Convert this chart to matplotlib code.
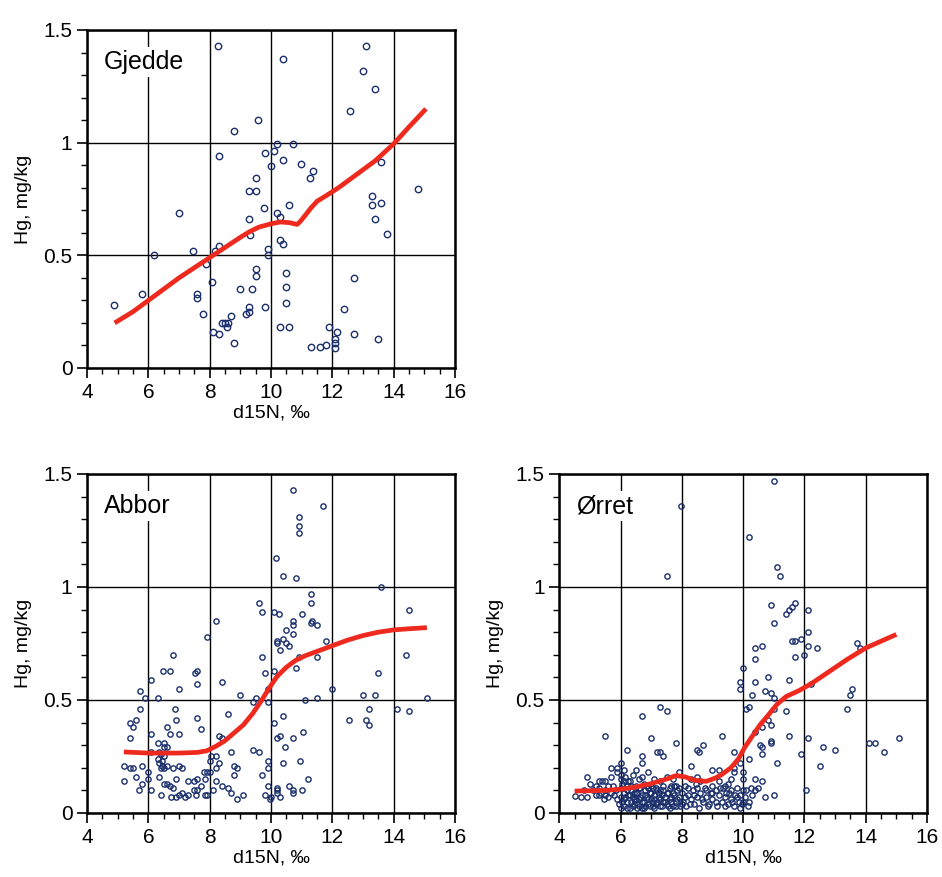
import matplotlib
matplotlib.use('Agg')
import matplotlib.pyplot as plt
from matplotlib.ticker import MultipleLocator

plt.rcParams['font.family'] = ['Liberation Sans', 'DejaVu Sans']

# Gjedde (pike)
gjedde_x = [4.88, 5.79, 6.18, 7.0, 7.46, 7.59, 7.59, 7.78, 7.88, 8.08, 8.17, 8.3, 8.1, 8.3, 8.4, 8.5,
            8.6, 8.55, 8.7, 8.79, 8.99, 9.18, 9.28, 9.28, 9.38, 9.5, 9.5, 9.8, 9.28, 9.3, 9.77, 9.9,
            9.9, 10.2, 10.3, 10.3, 10.39, 10.59, 10.49, 10.49, 10.49, 10.3, 10.59, 8.27, 9.57, 8.79,
            10.2, 10.7, 8.3, 9.8, 10.1, 10.39, 10.0, 10.98, 11.27, 11.37, 9.5, 9.28, 9.5, 10.39, 13.1,
            13.0, 13.39, 12.58, 13.59, 14.8, 13.29, 13.29, 13.59, 13.39, 13.78, 12.7, 12.38, 12.7,
            13.49, 11.9, 12.15, 12.1, 12.1, 12.1, 11.3, 11.6, 11.8]
gjedde_y = [0.28, 0.33, 0.50, 0.69, 0.52, 0.33, 0.31, 0.24, 0.46, 0.38, 0.52, 0.54, 0.16, 0.15, 0.20, 0.20,
            0.20, 0.18, 0.23, 0.11, 0.35, 0.24, 0.25, 0.27, 0.35, 0.44, 0.41, 0.27, 0.66, 0.59, 0.71, 0.53,
            0.50, 0.69, 0.67, 0.57, 0.55, 0.725, 0.42, 0.36, 0.29, 0.18, 0.18, 1.43, 1.10, 1.05,
            0.995, 0.995, 0.94, 0.955, 0.965, 0.925, 0.895, 0.905, 0.845, 0.875, 0.845, 0.787, 0.787, 1.37, 1.43,
            1.32, 1.24, 1.14, 0.915, 0.795, 0.765, 0.725, 0.73, 0.66, 0.595, 0.40, 0.26, 0.15,
            0.13, 0.18, 0.16, 0.13, 0.11, 0.09, 0.093, 0.093, 0.10]
gjedde_fit_x = [4.9, 5.5, 6.0, 6.5, 7.0, 7.5, 8.0, 8.5, 9.0, 9.3, 9.6, 10.0, 10.3, 10.6, 10.85, 10.95,
                11.1, 11.3, 11.5, 11.8, 12.2, 12.8, 13.4, 14.0, 14.5, 15.05]
gjedde_fit_y = [0.20, 0.25, 0.30, 0.35, 0.40, 0.445, 0.49, 0.535, 0.58, 0.605, 0.625, 0.64, 0.648, 0.645,
                0.637, 0.65, 0.675, 0.71, 0.74, 0.765, 0.80, 0.86, 0.92, 0.995, 1.07, 1.15]

# Abbor (perch)
abbor_x = [10.7, 11.7, 10.9, 10.9, 10.9, 10.16, 10.4, 10.8, 13.59, 11.3, 11.3, 9.6, 9.7, 10.1, 10.26, 8.2,
           14.5, 11.0, 10.7, 10.7, 10.5, 10.7, 11.35, 11.3, 11.5, 7.9, 10.2, 10.2, 10.4, 10.5, 10.6, 10.3,
           11.8, 6.8, 9.7, 10.9, 11.5, 14.4, 10.8, 6.48, 6.7, 7.52, 7.59, 10.1, 9.8, 13.5, 7.6, 6.1, 7.0,
           5.73, 5.9, 6.3, 8.4, 9.0, 12.0, 13.0, 13.4, 15.1, 11.1, 11.5, 9.4, 9.5, 9.9, 9.9, 13.2, 14.1,
           14.5, 12.55, 13.1, 13.2, 10.4, 10.1, 11.05, 10.3, 10.7, 10.45, 10.4, 10.95, 11.2, 10.6, 10.2,
           10.2, 10.2, 10.3, 10.7, 10.7, 11.0, 10.0,
           5.73, 5.4, 5.6, 5.5, 5.4, 6.87, 6.9, 6.6, 6.7, 7.0, 7.6, 7.7, 6.1, 6.3, 6.5, 6.6, 6.5, 6.1,
           6.35, 6.4, 6.5, 6.3, 6.45, 6.35, 6.45, 8.6, 8.3, 8.4, 8.7, 8.05, 8.2, 8.0, 8.3, 5.2, 5.4, 5.5,
           5.8, 5.2, 5.6, 5.7, 5.8, 6.0, 6.0, 6.1, 6.4, 6.35, 6.4, 6.5, 6.6, 6.8, 7.0, 7.1, 6.5, 6.6, 6.7,
           6.9, 6.8, 6.75, 6.9, 7.0, 7.1, 7.3, 7.2, 7.3, 7.5, 7.6, 7.5, 7.6, 7.55, 7.8, 7.9, 8.0, 7.7,
           7.85, 7.85, 7.9, 8.2, 8.2, 8.1, 8.4, 8.6, 8.7, 8.8, 8.9, 8.8, 8.9, 9.1, 9.4, 9.6, 9.7, 9.9,
           9.9, 9.8, 9.9, 9.95, 10.2]
abbor_y = [1.43, 1.36, 1.31, 1.27, 1.24, 1.13, 1.05, 1.04, 1.0, 0.97, 0.93, 0.93, 0.89, 0.89, 0.88, 0.85,
           0.90, 0.88, 0.85, 0.83, 0.81, 0.79, 0.85, 0.84, 0.83, 0.78, 0.76, 0.75, 0.77, 0.75, 0.74, 0.72,
           0.76, 0.70, 0.69, 0.69, 0.69, 0.70, 0.64, 0.63, 0.63, 0.62, 0.63, 0.63, 0.62, 0.62, 0.57, 0.59, 0.55,
           0.54, 0.51, 0.51, 0.58, 0.52, 0.55, 0.52, 0.52, 0.51, 0.50, 0.51, 0.49, 0.51, 0.55, 0.49, 0.46, 0.46,
           0.45, 0.41, 0.41, 0.39, 0.43, 0.40, 0.36, 0.34, 0.33, 0.29, 0.22, 0.23, 0.15, 0.12, 0.11,
           0.10, 0.09, 0.07, 0.10, 0.09, 0.10, 0.07,
           0.46, 0.40, 0.41, 0.38, 0.33, 0.46, 0.41, 0.38, 0.35, 0.35, 0.42, 0.37, 0.35, 0.31, 0.31, 0.29, 0.29, 0.27,
           0.27, 0.26, 0.25, 0.24, 0.23, 0.22, 0.21, 0.44, 0.34, 0.33, 0.27, 0.25, 0.25, 0.23, 0.22, 0.21, 0.20, 0.20,
           0.21, 0.14, 0.16, 0.10, 0.13, 0.18, 0.15, 0.10, 0.08, 0.16, 0.20, 0.20, 0.21, 0.20, 0.21, 0.20, 0.13, 0.13, 0.12,
           0.15, 0.11, 0.07, 0.07, 0.08, 0.09, 0.08, 0.07, 0.14, 0.14, 0.15, 0.10, 0.10, 0.08, 0.18, 0.18, 0.18, 0.12,
           0.15, 0.08, 0.08, 0.20, 0.14, 0.10, 0.12, 0.11, 0.09, 0.21, 0.20, 0.17, 0.06, 0.08, 0.28, 0.27, 0.17, 0.23,
           0.20, 0.08, 0.12, 0.06, 0.33]
abbor_fit_x = [5.2, 6.0, 7.0, 7.6, 7.9, 8.2, 8.5, 8.8, 9.1, 9.4, 9.7, 9.95, 10.2, 10.5, 10.8, 11.1, 11.5,
               12.0, 12.5, 13.0, 13.5, 14.0, 14.5, 15.08]
abbor_fit_y = [0.27, 0.265, 0.265, 0.268, 0.275, 0.295, 0.32, 0.355, 0.39, 0.44, 0.50, 0.555, 0.605, 0.645,
               0.675, 0.695, 0.715, 0.74, 0.765, 0.785, 0.80, 0.81, 0.815, 0.82]

# Ørret (trout)
orret_x = [11.0, 10.18, 11.1, 11.2, 7.97, 7.5, 10.9, 11.7, 11.6, 11.5, 11.4, 12.1, 11.0, 12.1, 11.9, 11.7,
           11.6, 12.1, 12.4, 12.0, 11.7, 10.6, 10.4, 10.4, 13.7, 13.8, 10.0, 9.9, 9.9, 10.4, 10.8, 11.5,
           10.3, 10.7, 10.9, 11.0, 13.55, 13.5, 12.2, 10.1, 10.2, 11.0, 11.4, 13.4, 10.8, 10.9, 10.6, 10.4,
           9.3, 11.5, 12.1, 10.9, 10.9, 10.55, 10.6, 14.1, 14.3, 15.1, 14.6, 12.6, 13.0, 11.9, 9.7, 10.6,
           10.2, 11.1, 12.5, 9.9, 9.7, 9.7, 10.0, 9.6, 10.0, 10.4, 10.6, 9.4, 12.05, 11.0, 10.7, 10.5, 10.4,
           7.3, 7.5, 6.7, 5.5, 7.0, 7.8, 6.2, 7.2, 7.3, 7.4, 8.5, 8.55, 8.7, 6.7, 6.7, 8.3, 5.7, 5.9, 6.0,
           6.1, 4.9, 5.3, 5.4, 5.5, 5.7, 4.5, 4.7, 4.9, 5.3, 5.45, 5.6, 9.0, 9.2, 7.9, 8.5,
           5.9, 6.0, 6.0, 6.05, 6.0, 6.1, 6.0, 6.05, 6.1, 6.15, 6.2, 6.25, 6.2, 5.85, 5.8, 5.75, 5.7, 5.95,
           6.3, 6.35, 6.4, 6.45, 6.5, 6.55, 6.6, 6.6, 6.65, 6.7, 6.75, 6.8, 6.85, 6.9, 6.95, 7.0, 6.4, 6.5,
           6.7, 6.9, 6.35, 6.55, 6.8, 7.0,
           7.05, 7.1, 7.15, 7.2, 7.25, 7.3, 7.35, 7.4, 7.45, 7.5, 7.55, 7.6, 7.65, 7.7, 7.75, 7.8, 7.85, 7.9,
           7.95, 7.3, 7.5, 7.1, 7.7,
           8.0, 8.05, 8.1, 8.15, 8.2, 8.3, 8.35, 8.4, 8.45, 8.5, 8.55, 8.6, 8.7, 8.75, 8.8, 8.9, 8.95, 8.3, 8.6,
           9.0, 9.1, 9.15, 9.2, 9.3, 9.35, 9.4, 9.5, 9.55, 9.6, 9.7, 9.75, 9.8, 9.85, 9.9, 9.95, 10.05, 10.1,
           10.2, 10.3, 9.2, 9.5, 9.0,
           6.1, 6.3, 6.5, 6.7, 6.9, 7.1, 7.3, 7.6, 7.8, 6.2, 6.45, 6.75, 7.05, 7.4, 7.65, 6.25, 6.6,
           5.1, 5.2, 5.3, 5.35, 5.5, 5.6, 5.2, 5.5, 5.0, 4.8,
           5.9, 6.0, 6.1, 6.15, 6.2, 6.3, 6.35, 6.4, 6.45, 6.5, 6.55, 6.6, 6.65, 6.7, 6.75, 6.8, 6.85, 6.9,
           6.95, 7.0, 7.05, 7.1, 7.15, 7.2, 7.25, 7.3, 7.35, 7.4, 7.45, 7.5, 7.55, 7.6, 7.65, 7.7, 7.75, 7.8,
           7.85, 7.9, 8.0, 8.1, 8.2, 8.25, 8.4, 8.5, 8.65, 8.8, 8.85, 9.0, 9.1, 9.25, 9.4, 9.45, 9.6, 9.65,
           9.8, 9.9, 10.0, 10.0, 10.15, 10.25]
orret_y = [1.47, 1.22, 1.09, 1.05, 1.36, 1.05, 0.92, 0.93, 0.91, 0.90, 0.88, 0.90, 0.84, 0.80, 0.77, 0.76,
           0.76, 0.74, 0.73, 0.70, 0.69, 0.74, 0.73, 0.68, 0.75, 0.73, 0.64, 0.58, 0.55, 0.58, 0.60, 0.59,
           0.52, 0.54, 0.53, 0.51, 0.55, 0.52, 0.57, 0.46, 0.47, 0.46, 0.45, 0.46, 0.41, 0.39, 0.38, 0.36,
           0.34, 0.34, 0.33, 0.32, 0.31, 0.30, 0.29, 0.31, 0.31, 0.33, 0.27, 0.29, 0.28, 0.26, 0.27, 0.26,
           0.24, 0.22, 0.21, 0.22, 0.20, 0.18, 0.18, 0.15, 0.15, 0.15, 0.14, 0.12, 0.10, 0.08, 0.07, 0.11, 0.10,
           0.47, 0.45, 0.43, 0.34, 0.33, 0.31, 0.28, 0.27, 0.27, 0.25, 0.28, 0.27, 0.30, 0.25, 0.22, 0.21, 0.20, 0.20, 0.22,
           0.19, 0.16, 0.14, 0.14, 0.14, 0.16, 0.075, 0.07, 0.07, 0.08, 0.06, 0.07, 0.19, 0.19, 0.18, 0.16,
           0.18, 0.17, 0.15, 0.13, 0.11, 0.09, 0.07, 0.05, 0.03, 0.16, 0.12, 0.08, 0.05, 0.10, 0.08, 0.12, 0.09, 0.04,
           0.14, 0.10, 0.07, 0.04, 0.12, 0.09, 0.06, 0.03, 0.11, 0.08, 0.05, 0.10, 0.07, 0.04, 0.09, 0.06, 0.17, 0.19,
           0.16, 0.18, 0.05, 0.02, 0.03, 0.12,
           0.03, 0.08, 0.11, 0.05, 0.09, 0.06, 0.03, 0.10, 0.07, 0.04, 0.09, 0.06, 0.12, 0.03, 0.08, 0.05, 0.10, 0.07,
           0.03, 0.14, 0.16, 0.15, 0.15,
           0.09, 0.05, 0.12, 0.03, 0.08, 0.06, 0.10, 0.04, 0.13, 0.07, 0.02, 0.09, 0.05, 0.11, 0.07, 0.04, 0.09, 0.15, 0.14,
           0.06, 0.10, 0.03, 0.08, 0.05, 0.11, 0.07, 0.04, 0.09, 0.06, 0.03, 0.08, 0.11, 0.05, 0.08, 0.04, 0.07, 0.10,
           0.05, 0.08, 0.14, 0.13, 0.12,
           0.06, 0.02, 0.06, 0.02, 0.11, 0.02, 0.10, 0.02, 0.12, 0.10, 0.09, 0.13, 0.05, 0.05, 0.07, 0.14, 0.15,
           0.10, 0.12, 0.11, 0.09, 0.10, 0.12, 0.08, 0.08, 0.13, 0.10,
           0.06, 0.02, 0.14, 0.07, 0.02, 0.08, 0.12, 0.03, 0.06, 0.09, 0.04, 0.11, 0.07, 0.05, 0.02, 0.08, 0.12, 0.06,
           0.03, 0.09, 0.11, 0.06, 0.04, 0.10, 0.07, 0.03, 0.08, 0.12, 0.05, 0.09, 0.03, 0.11, 0.05, 0.09, 0.12, 0.03,
           0.06, 0.11, 0.04, 0.07, 0.11, 0.04, 0.08, 0.11, 0.06, 0.10, 0.03, 0.09, 0.05, 0.11, 0.03, 0.09, 0.10, 0.05,
           0.07, 0.02, 0.10, 0.05, 0.03, 0.11]
orret_fit_x = [4.5, 5.5, 6.0, 6.5, 7.0, 7.5, 7.8, 8.1, 8.4, 8.8, 9.1, 9.3, 9.6, 9.85, 10.05, 10.3, 10.55,
               10.8, 11.1, 11.4, 11.8, 12.2, 12.8, 13.4, 14.0, 14.5, 15.0]
orret_fit_y = [0.097, 0.10, 0.105, 0.115, 0.13, 0.15, 0.165, 0.16, 0.145, 0.14, 0.155, 0.17, 0.20, 0.24,
               0.29, 0.34, 0.39, 0.43, 0.48, 0.515, 0.54, 0.57, 0.625, 0.68, 0.73, 0.76, 0.79]

navy = '#1a2f6b'
red = '#ee2a1f'


def panel(ax, xs, ys, fx, fy, name, msize):
    ax.set_xlim(4, 16)
    ax.set_ylim(0, 1.5)
    ax.grid(True, color='black', linewidth=1.0)
    ax.set_axisbelow(True)
    ax.plot(xs, ys, 'o', markerfacecolor='none', markeredgecolor=navy,
            markersize=msize, markeredgewidth=1.0, clip_on=False, zorder=3)
    ax.plot(fx, fy, color=red, linewidth=3.4, solid_capstyle='butt', solid_joinstyle='round', zorder=4)
    ax.xaxis.set_major_locator(MultipleLocator(2))
    ax.xaxis.set_minor_locator(MultipleLocator(0.5))
    ax.yaxis.set_major_locator(MultipleLocator(0.5))
    ax.yaxis.set_minor_locator(MultipleLocator(0.1))
    ax.set_yticks([0, 0.5, 1, 1.5])
    ax.set_yticklabels(['0', '0.5', '1', '1.5'])
    ax.tick_params(which='major', direction='out', length=7, width=1.2, labelsize=15)
    ax.tick_params(which='minor', direction='out', length=4, width=1.0)
    for s in ax.spines.values():
        s.set_linewidth(1.8)
    ax.set_xlabel('d15N, ‰', fontsize=14, labelpad=2)
    ax.set_ylabel('Hg, mg/kg', fontsize=14, labelpad=8)
    ax.text(0.045, 0.905, name, transform=ax.transAxes, fontsize=18, va='center', ha='left',
            bbox=dict(facecolor='white', edgecolor='none', pad=2), zorder=5)


fig = plt.figure(figsize=(9.42, 8.77), dpi=100)
ax1 = fig.add_axes([0.0924, 0.5804, 0.3907, 0.3854])
ax2 = fig.add_axes([0.0924, 0.0730, 0.3907, 0.3866])
ax3 = fig.add_axes([0.5937, 0.0730, 0.3904, 0.3866])

panel(ax1, gjedde_x, gjedde_y, gjedde_fit_x, gjedde_fit_y, 'Gjedde', 4.6)
panel(ax2, abbor_x, abbor_y, abbor_fit_x, abbor_fit_y, 'Abbor', 3.8)
panel(ax3, orret_x, orret_y, orret_fit_x, orret_fit_y, 'Ørret', 3.8)

plt.savefig('out.png', dpi=100)
